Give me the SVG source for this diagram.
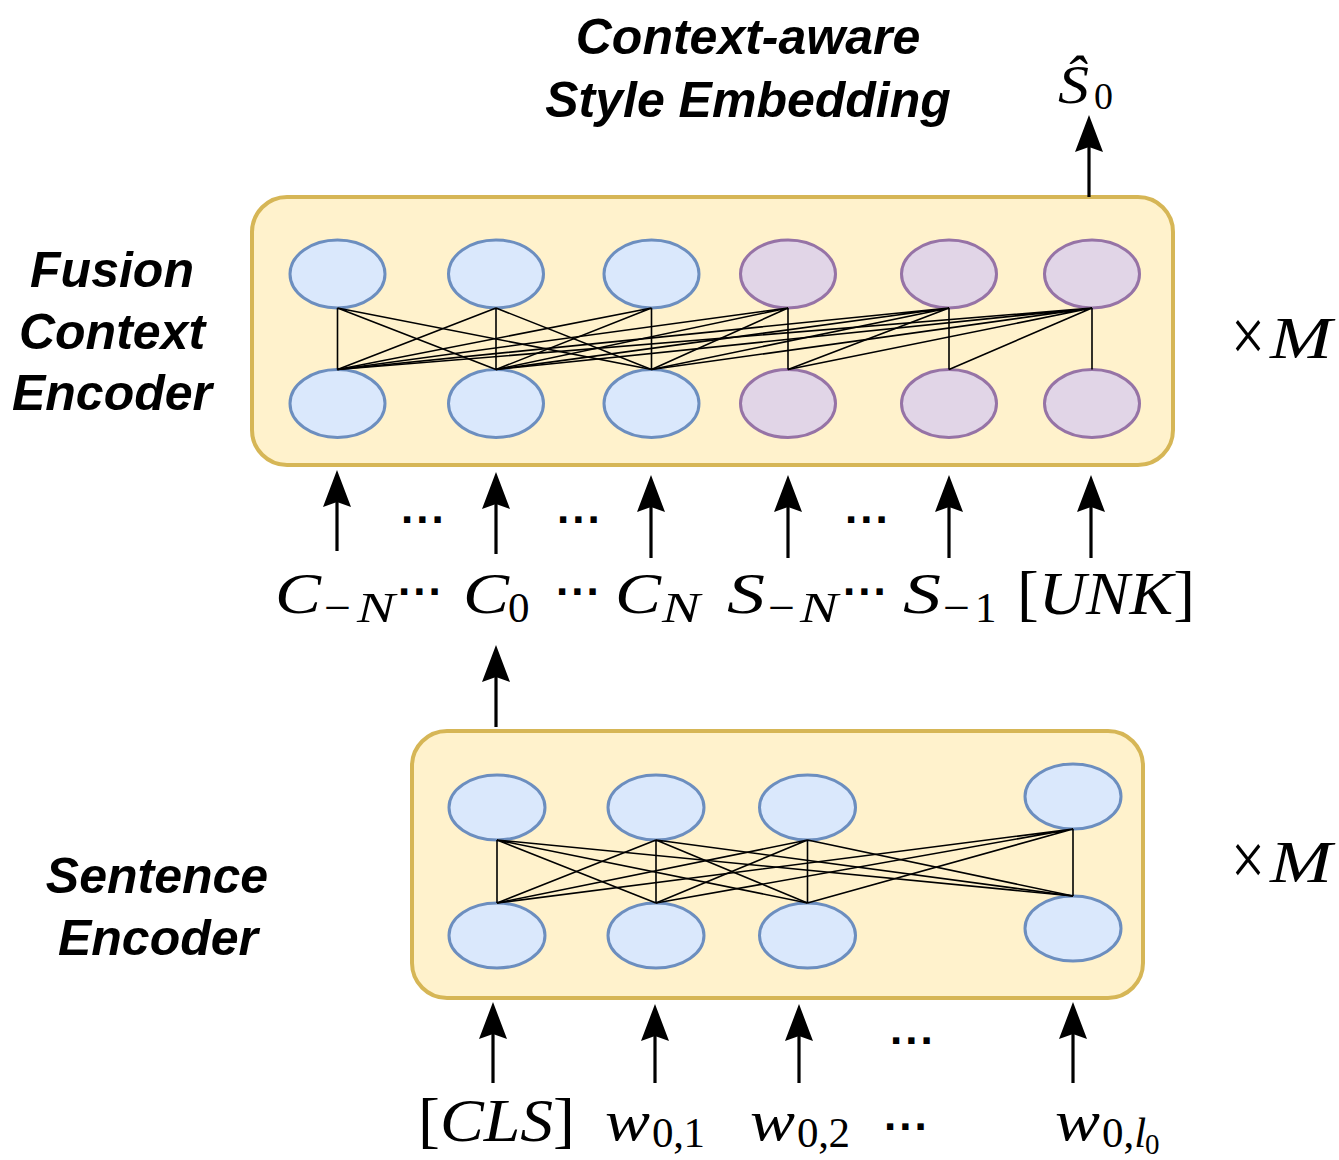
<svg xmlns="http://www.w3.org/2000/svg" width="1339" height="1160" viewBox="0 0 1339 1160">
<style>
.box{fill:#fff2cc;stroke:#d6b656;stroke-width:4}
.nb{fill:#dae8fc;stroke:#6c8ebf;stroke-width:3}
.np{fill:#e1d5e7;stroke:#9673a6;stroke-width:3}
.ln{stroke:#000;stroke-width:1.6;fill:none}
.arr{stroke:#000;stroke-width:3.2;fill:none;marker-end:url(#ah)}
.lbl{font-family:"Liberation Sans",Arial,sans-serif;font-weight:bold;font-style:italic;font-size:50px;fill:#000;text-anchor:middle}
.m{font-family:"Liberation Serif","Times New Roman",serif;font-style:italic;font-size:57px;fill:#000}
.s{font-family:"Liberation Serif","Times New Roman",serif;font-style:italic;font-size:43px;fill:#000}
.up{font-style:normal}
.dots{font-family:"Liberation Sans",Arial,sans-serif;font-weight:bold;font-size:44px;letter-spacing:3px;fill:#000}
</style>
<defs>
<marker id="ah" markerUnits="userSpaceOnUse" viewBox="0 0 37 28" markerWidth="37" markerHeight="28" refX="5" refY="14" orient="auto">
<path d="M0,0 L37,14 L0,28 L5,14 Z" fill="#000"/>
</marker>
</defs>

<g id="title">
<text class="lbl" x="748" y="54">Context-aware</text>
<text class="lbl" x="748" y="117">Style Embedding</text>
</g>
<g id="label-fusion">
<text class="lbl" x="112" y="287">Fusion</text>
<text class="lbl" x="112" y="349">Context</text>
<text class="lbl" x="112" y="410">Encoder</text>
</g>
<g id="label-sentence">
<text class="lbl" x="157" y="893">Sentence</text>
<text class="lbl" x="158" y="955">Encoder</text>
</g>

<g id="fusion-encoder">
<rect class="box" x="252" y="197" width="921" height="268" rx="35"/>
</g>
<g id="sentence-encoder">
<rect class="box" x="412" y="731" width="731" height="267" rx="35"/>
</g>

<g id="fusion-nodes">
<g id="f-top-1"><ellipse class="nb" cx="337.5" cy="274" rx="47.5" ry="34"/></g>
<g id="f-top-2"><ellipse class="nb" cx="496" cy="274" rx="47.5" ry="34"/></g>
<g id="f-top-3"><ellipse class="nb" cx="651.5" cy="274" rx="47.5" ry="34"/></g>
<g id="f-top-4"><ellipse class="np" cx="788" cy="274" rx="47.5" ry="34"/></g>
<g id="f-top-5"><ellipse class="np" cx="949" cy="274" rx="47.5" ry="34"/></g>
<g id="f-top-6"><ellipse class="np" cx="1092" cy="274" rx="47.5" ry="34"/></g>
<g id="f-bot-1"><ellipse class="nb" cx="337.5" cy="403.5" rx="47.5" ry="34"/></g>
<g id="f-bot-2"><ellipse class="nb" cx="496" cy="403.5" rx="47.5" ry="34"/></g>
<g id="f-bot-3"><ellipse class="nb" cx="651.5" cy="403.5" rx="47.5" ry="34"/></g>
<g id="f-bot-4"><ellipse class="np" cx="788" cy="403.5" rx="47.5" ry="34"/></g>
<g id="f-bot-5"><ellipse class="np" cx="949" cy="403.5" rx="47.5" ry="34"/></g>
<g id="f-bot-6"><ellipse class="np" cx="1092" cy="403.5" rx="47.5" ry="34"/></g>
</g>

<g id="sentence-nodes">
<g id="s-top-1"><ellipse class="nb" cx="497" cy="807.5" rx="48" ry="32.5"/></g>
<g id="s-top-2"><ellipse class="nb" cx="656" cy="807.5" rx="48" ry="32.5"/></g>
<g id="s-top-3"><ellipse class="nb" cx="807.5" cy="807.5" rx="48" ry="32.5"/></g>
<g id="s-top-4"><ellipse class="nb" cx="1073" cy="796.5" rx="48" ry="32.5"/></g>
<g id="s-bot-1"><ellipse class="nb" cx="497" cy="935.5" rx="48" ry="32.5"/></g>
<g id="s-bot-2"><ellipse class="nb" cx="656" cy="935.5" rx="48" ry="32.5"/></g>
<g id="s-bot-3"><ellipse class="nb" cx="807.5" cy="935.5" rx="48" ry="32.5"/></g>
<g id="s-bot-4"><ellipse class="nb" cx="1073" cy="928.5" rx="48" ry="32.5"/></g>
</g>

<g id="connectors">
<g id="fusion-links" class="ln">
<path d="M337.5,308 L337.5,369.5 M337.5,308 L496,369.5 M337.5,308 L651.5,369.5"/>
<path d="M496,308 L337.5,369.5 M496,308 L496,369.5 M496,308 L651.5,369.5"/>
<path d="M651.5,308 L337.5,369.5 M651.5,308 L496,369.5 M651.5,308 L651.5,369.5"/>
<path d="M788,308 L337.5,369.5 M788,308 L496,369.5 M788,308 L651.5,369.5 M788,308 L788,369.5"/>
<path d="M949,308 L337.5,369.5 M949,308 L496,369.5 M949,308 L651.5,369.5 M949,308 L788,369.5 M949,308 L949,369.5"/>
<path d="M1092,308 L337.5,369.5 M1092,308 L496,369.5 M1092,308 L651.5,369.5 M1092,308 L788,369.5 M1092,308 L949,369.5 M1092,308 L1092,369.5"/>
</g>
<g id="sentence-links" class="ln">
<path d="M497,840 L497,903 M497,840 L656,903 M497,840 L807.5,903 M497,840 L1073,896"/>
<path d="M656,840 L497,903 M656,840 L656,903 M656,840 L807.5,903 M656,840 L1073,896"/>
<path d="M807.5,840 L497,903 M807.5,840 L656,903 M807.5,840 L807.5,903 M807.5,840 L1073,896"/>
<path d="M1073,829 L497,903 M1073,829 L656,903 M1073,829 L807.5,903 M1073,829 L1073,896"/>
</g>
<g id="arrows">
<line class="arr" x1="1089" y1="197" x2="1089" y2="147"/>
<line class="arr" x1="337" y1="551" x2="337" y2="502"/>
<line class="arr" x1="496" y1="554" x2="496" y2="504"/>
<line class="arr" x1="651" y1="558" x2="651" y2="507"/>
<line class="arr" x1="788" y1="558" x2="788" y2="507"/>
<line class="arr" x1="949" y1="558" x2="949" y2="507"/>
<line class="arr" x1="1091" y1="558" x2="1091" y2="507"/>
<line class="arr" x1="496" y1="727" x2="496" y2="677"/>
<line class="arr" x1="493" y1="1083" x2="493" y2="1034"/>
<line class="arr" x1="655" y1="1083" x2="655" y2="1036"/>
<line class="arr" x1="799" y1="1083" x2="799" y2="1036"/>
<line class="arr" x1="1073" y1="1083" x2="1073" y2="1034"/>
</g>
</g>

<g id="ellipsis-marks">
<text class="dots" x="401" y="523">...</text>
<text class="dots" x="557" y="523">...</text>
<text class="dots" x="845" y="523">...</text>
<text class="dots" x="890" y="1044">...</text>
</g>

<g id="output-label">
<text class="m" x="1058" y="103" textLength="31" lengthAdjust="spacingAndGlyphs" style="font-size:54px">Ŝ</text>
<text class="s up" x="1094" y="109" style="font-size:38px">0</text>
</g>

<g id="repeat-labels">
<text class="m up" x="1231" y="361" textLength="34" lengthAdjust="spacingAndGlyphs" style="font-size:76px">×</text>
<text class="m" x="1270" y="358" textLength="62" lengthAdjust="spacingAndGlyphs" style="font-size:59px">M</text>
<text class="m up" x="1231" y="885" textLength="34" lengthAdjust="spacingAndGlyphs" style="font-size:76px">×</text>
<text class="m" x="1270" y="882" textLength="62" lengthAdjust="spacingAndGlyphs" style="font-size:59px">M</text>
</g>

<g id="fusion-inputs">
<text class="m" x="275" y="613" textLength="46" lengthAdjust="spacingAndGlyphs">C</text>
<text class="s up" x="324" y="622" textLength="27" lengthAdjust="spacingAndGlyphs">−</text>
<text class="s" x="357" y="622" textLength="38" lengthAdjust="spacingAndGlyphs">N</text>
<text class="dots" x="398" y="595">...</text>
<text class="m" x="463" y="613" textLength="46" lengthAdjust="spacingAndGlyphs">C</text>
<text class="s up" x="508" y="622">0</text>
<text class="dots" x="556" y="595">...</text>
<text class="m" x="615" y="613" textLength="46" lengthAdjust="spacingAndGlyphs">C</text>
<text class="s" x="662" y="622" textLength="38" lengthAdjust="spacingAndGlyphs">N</text>
<text class="m" x="727" y="613" textLength="38" lengthAdjust="spacingAndGlyphs">S</text>
<text class="s up" x="768" y="622" textLength="27" lengthAdjust="spacingAndGlyphs">−</text>
<text class="s" x="800" y="622" textLength="38" lengthAdjust="spacingAndGlyphs">N</text>
<text class="dots" x="843" y="595">...</text>
<text class="m" x="903" y="613" textLength="38" lengthAdjust="spacingAndGlyphs">S</text>
<text class="s up" x="943" y="622" textLength="27" lengthAdjust="spacingAndGlyphs">−</text>
<text class="s up" x="975" y="622">1</text>
<text class="m" x="1017" y="614" textLength="178" lengthAdjust="spacingAndGlyphs" style="font-size:61px"><tspan class="up">[</tspan>UNK<tspan class="up">]</tspan></text>
</g>

<g id="sentence-inputs">
<text class="m" x="418" y="1141" textLength="157" lengthAdjust="spacingAndGlyphs" style="font-size:61px"><tspan class="up">[</tspan>CLS<tspan class="up">]</tspan></text>
<text class="m" x="605" y="1140" textLength="45" lengthAdjust="spacingAndGlyphs">w</text>
<text class="s up" x="652" y="1147" textLength="53">0,1</text>
<text class="m" x="750" y="1140" textLength="45" lengthAdjust="spacingAndGlyphs">w</text>
<text class="s up" x="797" y="1147" textLength="53">0,2</text>
<text class="dots" x="884" y="1130">...</text>
<text class="m" x="1055" y="1140" textLength="45" lengthAdjust="spacingAndGlyphs">w</text>
<text class="s" x="1102" y="1147"><tspan class="up">0,</tspan>l</text>
<text class="s up" x="1145" y="1154" style="font-size:29px">0</text>
</g>
</svg>
